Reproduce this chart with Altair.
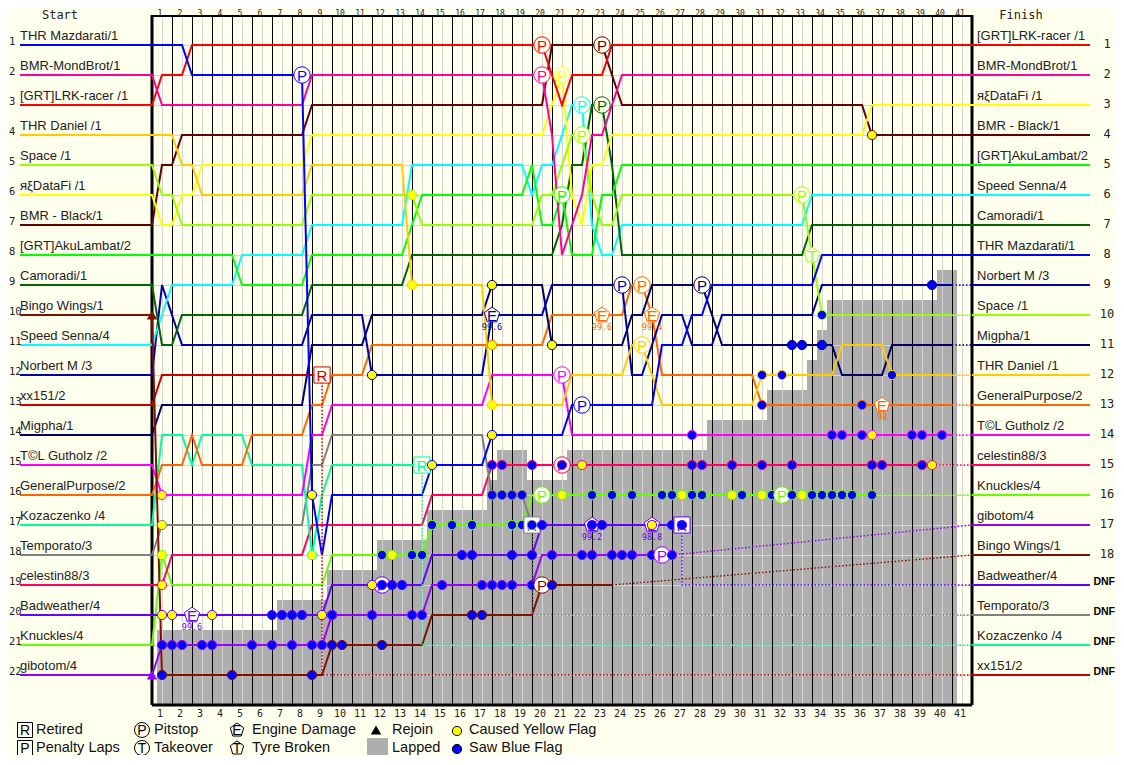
import altair as alt
import pandas as pd

BG = "#FFFFEE"
MONO = "DejaVu Sans Mono"
SANS = "Liberation Sans"

DRIVERS = ["THR Mazdarati/1", "BMR-MondBrot/1", "[GRT]LRK-racer /1", "THR Daniel /1", "Space /1",
           "яξDataFi /1", "BMR - Black/1", "[GRT]AkuLambat/2", "Camoradi/1", "Bingo Wings/1",
           "Speed Senna/4", "Norbert M /3", "xx151/2", "Migpha/1", "T©L Gutholz /2",
           "GeneralPurpose/2", "Kozaczenko /4", "Temporato/3", "celestin88/3", "Badweather/4",
           "Knuckles/4", "gibotom/4"]
COLORS = ["#0000FF", "#FF0099", "#FF0000", "#FFCC00", "#99FF00", "#FFFF00", "#660000", "#00FF00",
          "#006600", "#801000", "#00FFFF", "#0000AA", "#CC0000", "#000066", "#FF00FF", "#FF6600",
          "#00FF99", "#808080", "#FF0066", "#6600FF", "#66FF00", "#9900FF"]
MAZ, MON, LRK, DAN, SPA, DAT, BLK, AKU, CAM, BIN, SEN, NOR, XX, MIG, TOL, GEN, KOZ, TEM, CEL, BAD, KNU, GIB = range(22)

# half-lap index at which a move starts, rank reached half a lap later
MOVES = {
    MAZ: [(3,2),(15,16),(16,18),(17,16),(27,15),(33,14),(41,13),(50,11),(53,10),(55,9),(66,8)],
    MON: [(0,3),(15,2),(39,4),(40,8),(41,7),(42,6),(43,4),(45,3),(46,2)],
    LRK: [(0,2),(3,1),(39,2),(40,3),(41,2),(45,1)],
    DAN: [(2,5),(4,6),(15,5),(25,9),(33,13),(41,12),(47,11),(49,12),(50,13),(60,12),(68,11),(73,12)],
    SPA: [(0,6),(2,7),(15,6),(26,7),(38,6),(40,5),(41,4),(43,6),(44,7),(46,6),(65,8),(66,10)],
    DAT: [(0,7),(2,6),(4,5),(15,4),(39,3),(40,2),(41,6),(42,7),(43,5),(45,4),(71,3)],
    BLK: [(0,5),(2,4),(15,3),(39,1),(45,2),(46,3),(71,4)],
    AKU: [(8,9),(15,8),(25,7),(26,6),(37,5),(38,7),(40,6),(41,8),(44,6),(46,5)],
    CAM: [(0,11),(2,10),(15,9),(25,8),(40,7),(41,5),(43,3),(45,5),(46,8),(65,7)],
    BIN: [(0,22),(17,21),(27,20),(38,19)],
    SEN: [(0,10),(1,9),(8,8),(15,7),(25,5),(37,6),(38,5),(40,4),(41,3),(43,7),(44,8),(46,7),(65,6)],
    NOR: [(0,9),(1,10),(2,11),(15,10),(21,12),(33,10),(39,9),(47,12),(49,11),(50,10),(53,11),(56,10),(66,9)],
    XX:  [(0,12)],
    MIG: [(0,13),(15,11),(21,10),(33,9),(39,11),(47,10),(49,9),(55,10),(56,11),(68,12),(73,11)],
    TOL: [(0,16),(15,14),(17,13),(33,12),(41,14)],
    GEN: [(0,15),(3,14),(4,15),(9,14),(15,13),(17,12),(21,11),(39,10),(47,9),(49,10),(50,12),(60,13)],
    KOZ: [(0,14),(3,15),(4,14),(9,15),(15,18),(16,16),(17,15)],
    TEM: [(0,17),(15,15),(17,14),(33,16),(37,17)],
    CEL: [(1,18),(15,17),(27,16),(33,15)],
    BAD: [(17,19),(27,18),(38,17)],
    KNU: [(0,18),(1,19),(17,18),(27,17),(37,16)],
    GIB: [(0,21),(17,20),(27,19),(38,18)],
}
# half-lap at which the solid line stops
SOLID_END = {MAZ:82, MON:82, LRK:82, DAN:80, SPA:80, DAT:82, BLK:82, AKU:82, CAM:82, BIN:46, SEN:82,
             NOR:80, XX:17, MIG:80, TOL:80, GEN:80, KOZ:27, TEM:38, CEL:78, BAD:53, KNU:72, GIB:52}
# dotted tails
TAILS = {
    DAN: [(80,12),(82,12)], SPA: [(80,10),(82,10)], NOR: [(80,9),(82,9)], MIG: [(80,11),(82,11)],
    TOL: [(80,14),(82,14)], GEN: [(80,13),(82,13)], CEL: [(78,15),(82,15)], KNU: [(72,16),(82,16)],
    BIN: [(46,19),(82,18)], GIB: [(52,18),(82,17)], BAD: [(53,17),(53,19),(82,19)],
    TEM: [(38,17),(38,20),(82,20)], KOZ: [(27,15),(27,21),(82,21)], XX: [(17,12),(17,22),(82,22)],
}
FINISH = [LRK, MON, DAT, BLK, AKU, SEN, CAM, MAZ, NOR, SPA, MIG, DAN, GEN, TOL, CEL, KNU, GIB, BIN, BAD, TEM, KOZ, XX]
DNF_RANKS = [19, 20, 21, 22]
LAPS = list(range(1, 42))

# lapped area: (from half-lap, to half-lap, top edge in rank units)
LAPPED = [(0.5,12.5,20.5),(12.5,17.5,19.5),(17.5,22.5,18.5),(22.5,27.5,17.5),(27.5,33.5,16.5),(33.5,34.5,15.5),
          (34.5,37.5,14.5),(37.5,41.5,15.5),(41.5,55.5,14.5),(55.5,61.5,13.5),(61.5,65.5,12.5),(65.5,66.5,11.5),
          (66.5,67.5,10.5),(67.5,78.5,9.5),(78.5,80.5,8.5)]

PITS = [(MAZ,15,2),(LRK,39,1),(MON,39,2),(DAT,41,2),(SEN,43,3),(SPA,43,4),(CAM,45,3),(BLK,45,1),(AKU,41,6),
        (TOL,41,12),(MAZ,43,13),(NOR,47,9),(GEN,49,9),(DAN,49,11),(MIG,55,9),(SPA,65,6),(KNU,39,16),(CEL,41,15),
        (BAD,23,19),(BIN,39,19),(GIB,51,18),(KNU,63,16)]
ENGINE = [(BAD,4,20,"99.6"),(NOR,34,10,"99.6"),(GEN,45,10,"99.6"),(GEN,50,10,"99.4"),(BAD,44,17,"99.2"),
          (BAD,50,17,"98.8"),(GEN,73,13,"98")]
TYRE = [(SPA,66,8)]
RETIRED = [(XX,17,12),(KOZ,27,15),(TEM,38,17),(BAD,53,17)]
REJOIN = [(BIN,0,10),(GIB,0,22)]
YELLOW = [(TOL,1,16),(TEM,1,17),(KNU,1,18),(CEL,1,19),(BAD,1,20),(BAD,2,20),(BAD,6,20),(MAZ,16,16),(KOZ,16,18),
          (BAD,17,20),(NOR,22,12),(SPA,26,6),(DAN,26,9),(MAZ,28,15),(MIG,34,9),(GEN,34,11),(DAN,34,13),(MAZ,34,14),
          (MIG,40,11),(CEL,43,15),(KNU,41,16),(KNU,24,18),(BAD,22,19),(BAD,50,17),(KNU,53,16),(KNU,58,16),
          (KNU,61,16),(KNU,65,16),(TOL,72,14),(CEL,78,15),(BLK,72,4)]
BLUE = [(BAD,12,20),(BAD,13,20),(BAD,14,20),(BAD,15,20),(BAD,18,20),
        (GIB,1,21),(GIB,2,21),(GIB,3,21),(GIB,5,21),(GIB,6,21),(GIB,10,21),(GIB,12,21),(GIB,14,21),(GIB,16,21),(GIB,17,21),
        (BIN,1,22),(BIN,8,22),(BIN,16,22),(BIN,18,21),(BIN,19,21),(BIN,23,21),
        (GIB,18,20),(GIB,22,20),(GIB,26,20),(GIB,27,20),
        (BAD,23,19),(BAD,24,19),(BAD,25,19),
        (KNU,23,18),(KNU,26,18),(KNU,27,18),
        (BIN,32,20),(BIN,33,20),
        (GIB,29,19),(GIB,33,19),(GIB,34,19),(GIB,35,19),(GIB,36,19),(GIB,38,19),
        (BAD,31,18),(BAD,32,18),(BAD,36,18),(BAD,38,18),
        (KNU,28,17),(KNU,30,17),(KNU,32,17),(KNU,36,17),(KNU,37,17),
        (TEM,38,17),(BAD,39,17),(BAD,44,17),(BAD,45,17),(BAD,52,17),(BAD,53,17),
        (GIB,40,18),(GIB,43,18),(GIB,44,18),(GIB,46,18),(GIB,47,18),(GIB,48,18),(GIB,50,18),(GIB,52,18),
        (BIN,40,19),
        (TEM,34,16),(TEM,35,16),(TEM,36,16),(TEM,37,16),
        (CEL,34,15),(CEL,35,15),(CEL,38,15),(CEL,41,15),
        (KNU,44,16),(KNU,46,16),(KNU,48,16),(KNU,51,16),(KNU,52,16),(KNU,54,16),(KNU,55,16),(KNU,59,16),(KNU,62,16),
        (KNU,64,16),(KNU,66,16),(KNU,67,16),(KNU,68,16),(KNU,69,16),(KNU,70,16),(KNU,72,16),
        (TOL,54,14),(TOL,68,14),(TOL,69,14),(TOL,71,14),(TOL,76,14),(TOL,77,14),(TOL,79,14),
        (CEL,54,15),(CEL,55,15),(CEL,58,15),(CEL,61,15),(CEL,64,15),(CEL,72,15),(CEL,73,15),(CEL,77,15),
        (NOR,78,9),(SPA,67,10),(MIG,64,11),(MIG,65,11),(MIG,67,11),
        (DAN,61,12),(DAN,63,12),(DAN,74,12),(GEN,61,13),(GEN,71,13)]

# legend: pixel positions on the page picture
LEG_TEXT = [("Retired",36,730),("Penalty Laps",36,748),("Pitstop",154,730),("Takeover",154,748),
            ("Engine Damage",252,730),("Tyre Broken",252,748),("Rejoin",392,730),("Lapped",392,748),
            ("Caused Yellow Flag",469,730),("Saw Blue Flag",469,748)]
LEG_BOX = [("R",25,730),("P",25,748)]
LEG_CIRCLE = [("P",142,730),("T",142,748)]
LEG_PENT = [("E",237,730),("T",237,748)]

PENT = "M0,-1L0.95,-0.3L0.6,0.85L-0.6,0.85L-0.95,-0.3Z"

xs = alt.Scale(domain=[0, 82], nice=False, zero=False)
ys = alt.Scale(domain=[0, 23], nice=False, zero=False, reverse=True)
cs = alt.Scale(domain=DRIVERS, range=COLORS)
X = alt.X("h:Q", scale=xs, axis=None)
Y = alt.Y("r:Q", scale=ys, axis=None)
STROKE = alt.Stroke("d:N", scale=cs, legend=None)
COL = alt.Color("d:N", scale=cs, legend=None)


def px(x):
    return (x - 152) / 10


def py(y):
    return (y - 15) / 30


def tbl(rows):
    return pd.DataFrame([{"d": DRIVERS[a], "h": b, "r": c} for a, b, c, *_ in rows])


def lapped_at(h, r):
    return any(a <= h < b and r > top for a, b, top in LAPPED)


# ---- driver paths
line_rows, tail_rows, out_rows = [], [], []
for k in reversed(range(22)):
    cur = k + 1
    i = 0
    line_rows.append({"d": DRIVERS[k], "h": px(20), "r": cur, "i": i})
    for hs, nr in MOVES[k]:
        line_rows.append({"d": DRIVERS[k], "h": hs, "r": cur, "i": i + 1})
        line_rows.append({"d": DRIVERS[k], "h": hs + 1, "r": nr, "i": i + 2})
        i += 2
        cur = nr
    line_rows.append({"d": DRIVERS[k], "h": SOLID_END[k], "r": cur, "i": i + 1})
    for j, (hh, rr) in enumerate(TAILS.get(k, [])):
        tail_rows.append({"d": DRIVERS[k], "h": hh, "r": rr, "i": j})
for pos, k in enumerate(FINISH):
    out_rows.append({"d": DRIVERS[k], "h": 82, "r": pos + 1, "i": 0})
    out_rows.append({"d": DRIVERS[k], "h": px(1090), "r": pos + 1, "i": 1})

# ---- dots below / above the lettered icons
icons = PITS + [e[:3] for e in ENGINE] + TYRE + RETIRED
icon_pos = {(h, r) for _, h, r in icons}
blue_under = [b for b in BLUE if (b[1] + 1, b[2]) in icon_pos]
blue_over = [b for b in BLUE if b not in blue_under]

layers = []

# lapped area
layers.append(alt.Chart(pd.DataFrame(LAPPED, columns=["h", "h2", "r"])).mark_rect(color="#AEAEAE").encode(
    x=X, x2="h2:Q", y=Y, y2=alt.Y2(datum=23)))
# light grid
layers.append(alt.Chart(pd.DataFrame({"h": [2 * k - 1 for k in LAPS]})).mark_rule(color="#D4D4D4", xOffset=0.5).encode(
    x=X, y=alt.Y(datum=0, scale=ys, axis=None), y2=alt.Y2(datum=23)))
layers.append(alt.Chart(pd.DataFrame({"r": list(range(1, 23))})).mark_rule(color="#D4D4D4", yOffset=0.5).encode(
    y=Y, x=alt.X(datum=0, scale=xs, axis=None), x2=alt.X2(datum=82)))
# black lap lines
layers.append(alt.Chart(pd.DataFrame({"h": [2 * k for k in LAPS[:-1]]})).mark_rule(color="#000000", xOffset=0.5).encode(
    x=X, y=alt.Y(datum=0, scale=ys, axis=None), y2=alt.Y2(datum=23)))
# frame: left, right, bottom, and a slimmer top so that the lap numbers above it stay whole
layers.append(alt.Chart(pd.DataFrame({"h": [0, 82]})).mark_rule(color="#000000", strokeWidth=3).encode(
    x=X, y=alt.Y(datum=0, scale=ys, axis=None), y2=alt.Y2(datum=23)))
layers.append(alt.Chart(pd.DataFrame({"r": [23]})).mark_rule(color="#000000", strokeWidth=3).encode(
    y=Y, x=alt.X(datum=0, scale=xs, axis=None), x2=alt.X2(datum=82)))
layers.append(alt.Chart(pd.DataFrame({"r": [0]})).mark_rule(color="#000000", strokeWidth=2, yOffset=1).encode(
    y=Y, x=alt.X(datum=0, scale=xs, axis=None), x2=alt.X2(datum=82)))
# lines
layers.append(alt.Chart(pd.DataFrame(out_rows)).mark_line(strokeWidth=2, interpolate="linear").encode(
    x=X, y=Y, stroke=STROKE, detail="d:N", order="i:Q"))
layers.append(alt.Chart(pd.DataFrame(line_rows)).mark_line(strokeWidth=2, interpolate="linear").encode(
    x=X, y=Y, stroke=STROKE, detail="d:N", order="i:Q"))
layers.append(alt.Chart(pd.DataFrame(tail_rows)).mark_line(strokeWidth=1.4, strokeDash=[1.5, 2]).encode(
    x=X, y=Y, stroke=STROKE, detail="d:N", order="i:Q"))


def dots(rows, fill):
    return alt.Chart(tbl(rows)).mark_point(shape="circle", size=85, filled=False, fill=fill, fillOpacity=1,
                                           strokeWidth=1, opacity=1).encode(x=X, y=Y, stroke=STROKE)


layers.append(dots(blue_under, "#0000FF"))


def icon(rows, shape, size, letter):
    out = []
    for fill, part in ((BG, [q for q in rows if not lapped_at(q[1], q[2])]),
                       ("#FFFFFF", [q for q in rows if lapped_at(q[1], q[2])])):
        if not part:
            continue
        d = tbl(part)
        d["t"] = letter
        base = alt.Chart(d)
        out.append(base.mark_point(shape=shape, size=size, filled=False, fill=fill, fillOpacity=1, strokeWidth=1,
                                   opacity=1).encode(x=X, y=Y, stroke=STROKE))
        out.append(base.mark_text(font=SANS, fontSize=15, baseline="middle", dy=0.5).encode(
            x=X, y=Y, color=COL, text="t:N"))
    return out


layers += icon(PITS, "circle", 270, "P")
layers += icon([e[:3] for e in ENGINE], PENT, 256, "E")
layers += icon(TYRE, PENT, 256, "T")
layers += icon(RETIRED, "square", 260, "R")

vals = pd.DataFrame([{"d": DRIVERS[a], "h": b, "r": c, "t": t} for a, b, c, t in ENGINE])
layers.append(alt.Chart(vals).mark_text(font=MONO, fontSize=8.5, baseline="middle", dy=12).encode(
    x=X, y=Y, color=COL, text="t:N"))

layers.append(dots(YELLOW, "#FFFF00"))
layers.append(dots(blue_over, "#0000FF"))

rej = tbl(REJOIN)
layers.append(alt.Chart(rej).mark_point(shape="triangle-up", size=110, filled=True, opacity=1).encode(
    x=X, y=Y, fill=alt.Fill("d:N", scale=cs, legend=None)))

# names
starts = pd.DataFrame({"d": DRIVERS, "r": list(range(1, 23)), "h": px(20)})
layers.append(alt.Chart(starts).mark_text(font=SANS, fontSize=13, align="left", baseline="alphabetic", dy=-5,
                                          color="#222222").encode(x=X, y=Y, text="d:N"))
ends = pd.DataFrame({"d": [DRIVERS[k] for k in FINISH], "r": list(range(1, 23)), "h": px(977)})
layers.append(alt.Chart(ends).mark_text(font=SANS, fontSize=13, align="left", baseline="alphabetic", dy=-5,
                                        color="#222222").encode(x=X, y=Y, text="d:N"))
# ranks
rk = list(range(1, 23))
layers.append(alt.Chart(pd.DataFrame({"r": rk, "h": px(9)})).mark_text(
    font=MONO, fontSize=10.5, align="left", baseline="middle", dy=-3, color="#222222").encode(x=X, y=Y, text="r:Q"))
layers.append(alt.Chart(pd.DataFrame({"r": rk[:18], "h": px(1107)})).mark_text(
    font=MONO, fontSize=12, baseline="middle", dy=-1, color="#222222").encode(x=X, y=Y, text="r:Q"))
layers.append(alt.Chart(pd.DataFrame({"r": DNF_RANKS, "h": px(1115), "t": "DNF"})).mark_text(
    font=SANS, fontSize=10.5, fontWeight="bold", align="right", baseline="middle", dy=-3, color="#000000").encode(x=X, y=Y, text="t:N"))
# lap numbers, top and bottom
layers.append(alt.Chart(pd.DataFrame({"k": LAPS, "h": [2 * k - 1.2 for k in LAPS], "r": py(15.5)})).mark_text(
    font=MONO, fontSize=8, baseline="alphabetic", color="#222222").encode(x=X, y=Y, text="k:Q"))
layers.append(alt.Chart(pd.DataFrame({"k": LAPS, "h": [2 * k - 1.2 for k in LAPS], "r": py(714)})).mark_text(
    font=MONO, fontSize=10, baseline="middle", color="#222222").encode(x=X, y=Y, text="k:Q"))
layers.append(alt.Chart(pd.DataFrame({"t": ["Start", "Finish"], "h": [px(60), px(1021)], "r": py(15)})).mark_text(
    font=MONO, fontSize=12, baseline="middle", color="#222222").encode(x=X, y=Y, text="t:N"))

# legend
lt = pd.DataFrame([{"t": t, "h": px(a), "r": py(b)} for t, a, b in LEG_TEXT])
layers.append(alt.Chart(lt).mark_text(font=SANS, fontSize=14.5, align="left", baseline="middle", color="#111111").encode(
    x=X, y=Y, text="t:N"))


def leg_icon(rows, shape, size):
    d = pd.DataFrame([{"t": t, "h": px(a), "r": py(b)} for t, a, b in rows])
    base = alt.Chart(d)
    return [base.mark_point(shape=shape, size=size, filled=False, stroke="#000000", strokeWidth=1, opacity=1).encode(x=X, y=Y),
            base.mark_text(font=SANS, fontSize=14, baseline="middle", dy=0.5, color="#000000").encode(x=X, y=Y, text="t:N")]


layers += leg_icon(LEG_BOX, "square", 225)
layers += leg_icon(LEG_CIRCLE, "circle", 225)
layers += leg_icon(LEG_PENT, PENT, 200)
layers.append(alt.Chart(pd.DataFrame({"h": [px(376)], "r": [py(730)]})).mark_point(
    shape="triangle-up", size=110, filled=True, color="#000000", opacity=1).encode(x=X, y=Y))
layers.append(alt.Chart(pd.DataFrame({"h": [px(367)], "h2": [px(388)], "r": [py(738)], "r2": [py(756)]})).mark_rect(
    color="#AEAEAE").encode(x=X, x2="h2:Q", y=Y, y2="r2:Q"))
layers.append(alt.Chart(pd.DataFrame({"h": [px(457)], "r": [py(731)]})).mark_point(
    shape="circle", size=85, filled=False, fill="#FFFF00", fillOpacity=1, stroke="#000000", strokeWidth=1, opacity=1).encode(x=X, y=Y))
layers.append(alt.Chart(pd.DataFrame({"h": [px(457)], "r": [py(749)]})).mark_point(
    shape="circle", size=85, filled=False, fill="#0000FF", fillOpacity=1, stroke="#000000", strokeWidth=1, opacity=1).encode(x=X, y=Y))

chart = alt.layer(*layers).properties(
    width=820, height=690, background=BG, autosize="none",
    padding={"left": 144, "top": 7, "right": 144, "bottom": 50},
).configure_view(stroke=None)

chart.save("out.html", embed_options={"renderer": "svg", "actions": False})
